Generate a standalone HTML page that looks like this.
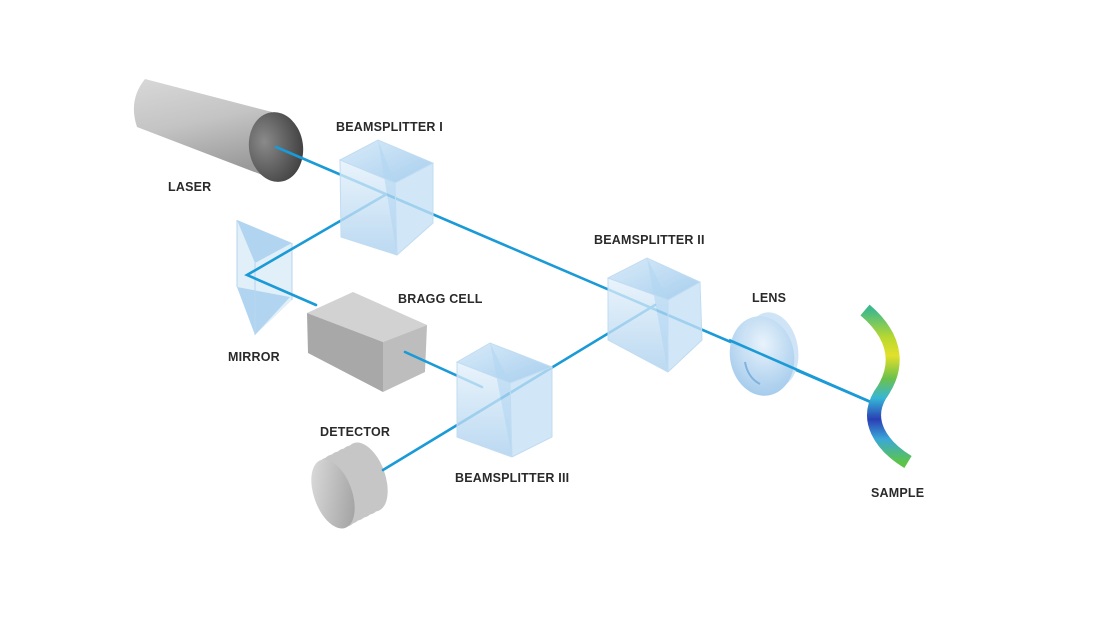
<!DOCTYPE html>
<html><head><style>
html,body{margin:0;padding:0;background:#fff;}
svg{display:block}
text{font-family:"Liberation Sans",sans-serif;font-size:12.5px;font-weight:bold;fill:#2a2a2a;letter-spacing:0.2px}
</style></head><body>
<svg width="1100" height="619" viewBox="0 0 1100 619" xmlns="http://www.w3.org/2000/svg">
<defs>
<linearGradient id="cyl" x1="0" y1="0" x2="0.3" y2="1">
<stop offset="0" stop-color="#d8d8d8"/><stop offset="0.5" stop-color="#c4c4c4"/><stop offset="1" stop-color="#9a9a9a"/></linearGradient>
<radialGradient id="cap" cx="0.3" cy="0.4" r="0.8">
<stop offset="0" stop-color="#8a8a8a"/><stop offset="0.6" stop-color="#5a5a5a"/><stop offset="1" stop-color="#3a3a3a"/></radialGradient>
<linearGradient id="glass" x1="0" y1="0" x2="0" y2="1">
<stop offset="0" stop-color="#e4f1fb"/><stop offset="1" stop-color="#a9cfee"/></linearGradient>
<linearGradient id="glassTop" x1="0" y1="0" x2="1" y2="1">
<stop offset="0" stop-color="#cfe6f7"/><stop offset="1" stop-color="#8fc1ea"/></linearGradient>
<radialGradient id="lens" cx="0.55" cy="0.35" r="0.7">
<stop offset="0" stop-color="#eaf4fc"/><stop offset="1" stop-color="#9cc6ea"/></radialGradient>
<linearGradient id="det" x1="0" y1="0" x2="1" y2="1">
<stop offset="0" stop-color="#e2e2e2"/><stop offset="1" stop-color="#9a9a9a"/></linearGradient>
<linearGradient id="samp" x1="0" y1="0" x2="0" y2="1">
<stop offset="0" stop-color="#3fb98a"/><stop offset="0.18" stop-color="#b8d830"/><stop offset="0.3" stop-color="#e3e02a"/><stop offset="0.45" stop-color="#6cc14a"/><stop offset="0.58" stop-color="#36b6d6"/><stop offset="0.72" stop-color="#2a3fb5"/><stop offset="0.85" stop-color="#3aa8d8"/><stop offset="1" stop-color="#5cc44a"/></linearGradient>
</defs>

<!-- Laser -->
<path d="M145,79 L272,112 L278,181 L137,127 Q128,100 145,79 Z" fill="url(#cyl)"/>
<ellipse cx="276" cy="147" rx="27" ry="35" transform="rotate(-8 276 147)" fill="url(#cap)"/>

<!-- Mirror prism -->
<path d="M237,220 L292,243 L292,300 L255,335 L237,287 Z" fill="#d9ebf8" opacity="0.8"/>
<path d="M237,220 L292,243 L255,263 Z" fill="#a8d0f0" opacity="0.85"/>
<path d="M237,287 L290,297 L255,335 Z" fill="#a8d0f0" opacity="0.85"/>
<path d="M237,220 L237,287 M255,263 L255,335 M292,243 L292,300" stroke="#b8d6ee" fill="none"/>

<!-- Bragg cell -->
<path d="M307,313 L353,292 L427,325 L383,342 Z" fill="#d2d2d2"/>
<path d="M307,313 L383,342 L383,392 L308,353 Z" fill="#a8a8a8"/>
<path d="M383,342 L427,325 L425,372 L383,392 Z" fill="#bdbdbd"/>

<!-- Detector -->
<g fill="#c6c6c6">
<ellipse cx="366" cy="477" rx="19" ry="36" transform="rotate(-20 366 477)"/>
<ellipse cx="360" cy="480" rx="19" ry="36" transform="rotate(-20 360 480)"/>
<ellipse cx="354" cy="483" rx="19" ry="36" transform="rotate(-20 354 483)"/>
<ellipse cx="348" cy="486" rx="19" ry="36" transform="rotate(-20 348 486)"/>
<ellipse cx="342" cy="489" rx="19" ry="36" transform="rotate(-20 342 489)"/>
<ellipse cx="337" cy="492" rx="19" ry="36" transform="rotate(-20 337 492)"/>
</g>
<ellipse cx="333" cy="494" rx="19" ry="36" transform="rotate(-20 333 494)" fill="url(#det)"/>

<!-- Beams -->
<g stroke="#1a9ad6" stroke-width="2.6" fill="none" stroke-linecap="round">
<line x1="276" y1="147" x2="873" y2="403"/>
<polyline points="385,195 247,275 316,305"/>
<line x1="405" y1="352" x2="482" y2="387"/>
<line x1="655" y1="305" x2="383" y2="470"/>
</g>

<!-- BS1 -->
<g opacity="0.78">
<path d="M340,160 L378,140 L433,163 L395,183 Z" fill="url(#glassTop)"/>
<path d="M340,160 L395,183 L397,255 L341,237 Z" fill="url(#glass)"/>
<path d="M395,183 L433,163 L433,223 L397,255 Z" fill="#c5e0f5"/>
<path d="M378,140 L395,183 L397,255 Z" fill="#9ccbee" opacity="0.6"/>
</g>
<path d="M340,160 L378,140 L433,163 L395,183 Z M340,160 L341,237 L397,255 L433,223 L433,163 M395,183 L397,255" stroke="#c0dcf2" fill="none"/>

<!-- BS2 -->
<g opacity="0.78">
<path d="M608,278 L647,258 L700,282 L668,300 Z" fill="url(#glassTop)"/>
<path d="M608,278 L668,300 L668,372 L608,340 Z" fill="url(#glass)"/>
<path d="M668,300 L700,282 L702,340 L668,372 Z" fill="#c5e0f5"/>
<path d="M647,258 L668,300 L668,372 Z" fill="#9ccbee" opacity="0.6"/>
</g>
<path d="M608,278 L647,258 L700,282 L668,300 Z M608,278 L608,340 L668,372 L702,340 L700,282 M668,300 L668,372" stroke="#c0dcf2" fill="none"/>

<!-- BS3 -->
<g opacity="0.78">
<path d="M457,362 L490,343 L552,367 L510,383 Z" fill="url(#glassTop)"/>
<path d="M457,362 L510,383 L512,457 L457,437 Z" fill="url(#glass)"/>
<path d="M510,383 L552,367 L552,437 L512,457 Z" fill="#c5e0f5"/>
<path d="M490,343 L510,383 L512,457 Z" fill="#9ccbee" opacity="0.6"/>
</g>
<path d="M457,362 L490,343 L552,367 L510,383 Z M457,362 L457,437 L512,457 L552,437 L552,367 M510,383 L512,457" stroke="#c0dcf2" fill="none"/>

<!-- Lens -->
<ellipse cx="772" cy="350" rx="26" ry="38" transform="rotate(-10 772 350)" fill="#cfe4f6"/>
<ellipse cx="762" cy="356" rx="32" ry="40" transform="rotate(-10 762 356)" fill="url(#lens)" opacity="0.95"/>
<path d="M745,362 Q748,378 760,384" stroke="#7fb2dc" stroke-width="2" fill="none"/>
<line x1="729" y1="340" x2="873" y2="403" stroke="#1a9ad6" stroke-width="2.6"/>

<!-- Sample -->
<path d="M865,310 C900,340 898,370 880,395 C865,420 880,445 908,462" stroke="url(#samp)" stroke-width="14" fill="none"/>

<!-- Labels -->
<text x="168" y="191">LASER</text>
<text x="336" y="131">BEAMSPLITTER I</text>
<text x="228" y="361">MIRROR</text>
<text x="398" y="303">BRAGG CELL</text>
<text x="594" y="244">BEAMSPLITTER II</text>
<text x="752" y="302">LENS</text>
<text x="320" y="436">DETECTOR</text>
<text x="455" y="482">BEAMSPLITTER III</text>
<text x="871" y="497">SAMPLE</text>
</svg>
</body></html>
